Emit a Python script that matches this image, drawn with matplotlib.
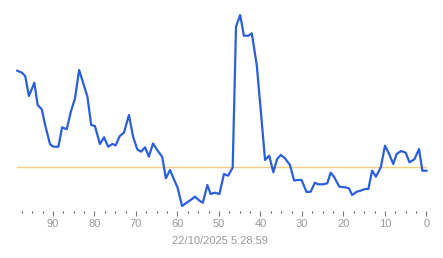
import matplotlib
matplotlib.use("Agg")
import matplotlib.pyplot as plt

plt.rcParams['font.family'] = ['Liberation Sans', 'DejaVu Sans']

# seconds ago (x) and reading (y)
seconds_ago = [98.6, 97.5, 96.7, 95.8, 94.5, 93.7, 92.7, 91.8, 90.7, 89.9,
               88.7, 87.8, 86.7, 85.7, 84.7, 83.7, 82.5, 81.7, 80.8, 79.9,
               78.7, 77.7, 76.7, 75.7, 74.9, 73.9, 72.9, 71.7, 70.7, 69.7,
               68.8, 67.8, 66.9, 65.9, 64.9, 63.7, 62.8, 61.8, 60.8, 60.0,
               58.9, 57.8, 56.6, 55.8, 54.7, 53.9, 52.8, 52.0, 51.0, 49.9,
               48.8, 47.8, 46.7, 45.9, 44.9, 44.0, 42.9, 42.1, 40.9, 39.9,
               38.9, 37.9, 36.9, 36.0, 35.1, 34.1, 32.9, 31.9, 31.0, 30.1,
               28.9, 27.9, 26.9, 26.1, 24.9, 23.9, 23.1, 22.3, 21.0, 19.6,
               18.7, 17.9, 16.8, 15.9, 14.8, 14.0, 13.1, 12.2, 11.0, 10.0,
               9.0, 8.0, 7.2, 6.1, 5.0, 4.1, 2.9, 1.8, 1.0, 0.0]
readings = [142.3, 140.3, 137.0, 117.0, 130.2, 108.0, 103.7, 86.3, 68.7, 66.3,
            66.3, 85.7, 83.7, 101.3, 114.7, 143.0, 127.0, 116.3, 88.0, 87.0,
            69.0, 75.7, 66.3, 69.0, 67.7, 77.0, 80.3, 98.0, 76.3, 63.7,
            61.3, 65.7, 56.3, 69.5, 63.0, 56.3, 34.7, 43.0, 33.0, 25.7,
            7.0, 10.3, 13.7, 16.3, 12.3, 10.3, 28.0, 19.0, 20.3, 19.0,
            39.0, 37.3, 45.3, 186.3, 198.0, 177.3, 177.3, 179.7, 148.0, 101.0,
            53.0, 57.3, 40.7, 54.0, 58.0, 54.7, 48.0, 32.5, 33.0, 33.0,
            21.0, 21.3, 30.3, 28.7, 28.7, 29.7, 40.3, 36.3, 26.3, 25.7,
            24.7, 18.0, 21.3, 22.3, 24.0, 24.0, 42.3, 36.3, 45.7, 67.3,
            59.0, 49.0, 59.0, 62.0, 60.3, 50.7, 53.7, 64.0, 42.3, 42.3]
reference_level = 46.0
major_ticks = [90, 80, 70, 60, 50, 40, 30, 20, 10, 0]
minor_ticks = [97.5, 95, 92.5, 87.5, 85, 82.5, 77.5, 75, 72.5, 67.5, 65, 62.5,
               57.5, 55, 52.5, 47.5, 45, 42.5, 37.5, 35, 32.5, 27.5, 25, 22.5,
               17.5, 15, 12.5, 7.5, 5, 2.5]
timestamp = "22/10/2025 5:28:59"

fig = plt.figure(figsize=(4.43, 2.58), dpi=100)
ax = fig.add_axes([10/443, 47/258, 423/443, 206/258])

ax.plot([seconds_ago[0], seconds_ago[-1]], [reference_level, reference_level],
        color='#f4cf7e', lw=1.0, zorder=1)
ax.plot(seconds_ago, readings, color='#2b5fd9', lw=1.6, zorder=2,
        solid_joinstyle='round')

ax.set_xlim(100.36, -1.57)
ax.set_ylim(2, 208)
for s in ax.spines.values():
    s.set_visible(False)
ax.set_yticks([])
ax.set_xticks(major_ticks)
ax.set_xticklabels([str(t) for t in major_ticks])
ax.set_xticks(minor_ticks, minor=True)
ax.tick_params(axis='x', which='major', length=3.5, width=0.8, color='#777777',
               labelcolor='#999999', labelsize=8, pad=2)
ax.tick_params(axis='x', which='minor', length=1.5, width=0.8, color='#555555')

fig.text(220/443, 1 - 241/258, timestamp, ha='center', va='center',
         fontsize=8, color='#999999')

fig.savefig('out.png', dpi=100)
